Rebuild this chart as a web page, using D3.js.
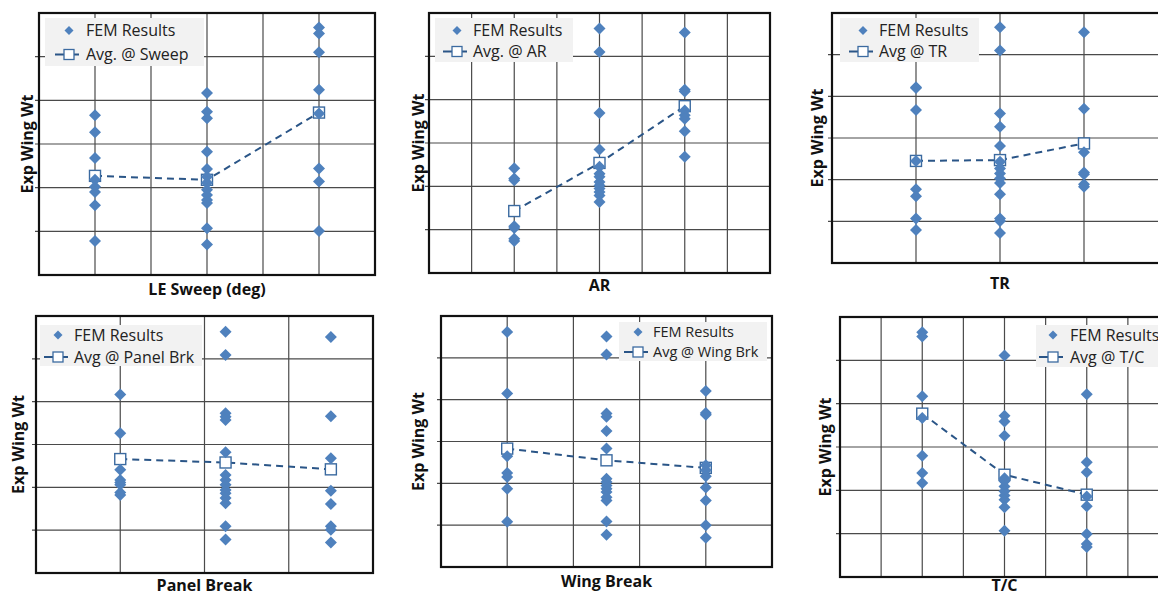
<!DOCTYPE html>
<html>
<head>
<meta charset="utf-8">
<script src="https://cdn.jsdelivr.net/npm/d3@7"></script>
<style>
  body { margin: 0; background: #fff; }
  svg { display: block; font-family: "Open Sans", sans-serif; }
</style>
</head>
<body>
<div id="app"></div>
<script>
// values are in grid units (y axis has no labels, 6 divisions)
const sweepX = [1, 3, 5];
const sweepFem = [
  [3.66, 3.27, 2.68, 2.18, 2.02, 1.90, 1.60, 0.78],
  [4.17, 3.74, 3.59, 2.82, 2.43, 2.25, 2.11, 1.95, 1.83, 1.72, 1.65, 1.07, 0.70],
  [5.67, 5.53, 5.10, 4.24, 3.70, 2.44, 2.14, 1.01]
];
const sweepAvg = [2.27, 2.18, 3.72];

const arX = [2, 4, 6];
const arFem = [
  [2.42, 2.18, 2.14, 1.08, 1.04, 0.79, 0.74],
  [5.64, 5.10, 3.69, 2.85, 2.45, 2.29, 2.22, 2.10, 2.02, 1.95, 1.87, 1.79, 1.64],
  [5.55, 4.23, 4.19, 3.75, 3.64, 3.56, 3.27, 2.68]
];
const arAvg = [1.43, 2.54, 3.85];

const trX = [1, 2, 3];
const trFem = [
  [4.22, 4.20, 3.67, 2.45, 1.77, 1.60, 1.07, 0.79],
  [5.66, 5.10, 3.59, 3.27, 2.81, 2.43, 2.27, 2.15, 2.03, 1.92, 1.65, 1.07, 1.01, 0.72],
  [5.54, 3.70, 2.66, 2.17, 2.13, 1.89, 1.83]
];
const trAvg = [2.45, 2.47, 2.87];

const panelBrkX = [1, 2.25, 3.5];
const panelBrkFem = [
  [4.17, 3.26, 2.41, 2.17, 2.11, 2.06, 1.88, 1.82],
  [5.63, 5.09, 3.73, 3.65, 3.57, 2.82, 2.29, 2.17, 2.06, 1.94, 1.86, 1.75, 1.63, 1.09, 0.78],
  [5.51, 3.66, 2.68, 1.92, 1.61, 1.09, 1.01, 0.71]
];
const panelBrkAvg = [2.66, 2.58, 2.42];

const wingBrkX = [1, 2.5, 4];
const wingBrkFem = [
  [5.62, 4.15, 2.65, 2.25, 2.15, 1.87, 1.08],
  [5.51, 5.08, 3.67, 3.59, 3.25, 2.83, 2.11, 2.03, 1.95, 1.87, 1.79, 1.67, 1.59, 1.09, 0.77],
  [4.21, 3.68, 3.64, 2.43, 2.31, 2.17, 1.90, 1.59, 1.00, 0.70]
];
const wingBrkAvg = [2.83, 2.55, 2.37];

const tcX = [2, 4, 6];
const tcFem = [
  [5.65, 5.55, 4.17, 3.67, 2.80, 2.40, 2.17],
  [5.11, 3.72, 3.59, 3.26, 2.28, 2.21, 2.09, 1.98, 1.88, 1.78, 1.61, 1.07],
  [4.22, 2.65, 2.42, 1.86, 1.63, 0.99, 0.76, 0.69]
];
const tcAvg = [3.77, 2.36, 1.90];

const xTitles = ["LE Sweep (deg)", "AR", "TR", "Panel Break", "Wing Break", "T/C"];
const avgNames = ["Avg. @ Sweep", "Avg. @ AR", "Avg @ TR", "Avg @ Panel Brk", "Avg @ Wing Brk", "Avg @ T/C"];
const femName = "FEM Results";
const yTitle = "Exp Wing Wt";

const series = [
  {x: sweepX, fem: sweepFem, avg: sweepAvg},
  {x: arX, fem: arFem, avg: arAvg},
  {x: trX, fem: trFem, avg: trAvg},
  {x: panelBrkX, fem: panelBrkFem, avg: panelBrkAvg},
  {x: wingBrkX, fem: wingBrkFem, avg: wingBrkAvg},
  {x: tcX, fem: tcFem, avg: tcAvg}
];

// plot frames on the page
const frames = [
  {l: 39, t: 13, r: 375, b: 275, xMax: 6, yLab: 27, xLabY: 289,
    leg: {x: 45, y: 18, w: 159, h: 48, mx: 24, tx: 41, r1: 12.5, r2: 36.5, fs: 16}},
  {l: 429, t: 13, r: 770, b: 273, xMax: 8, yLab: 418, xLabY: 285,
    leg: {x: 435, y: 18, w: 138, h: 44, mx: 22, tx: 38, r1: 12.5, r2: 33.5, fs: 16}},
  {l: 832, t: 13, r: 1168, b: 263, xMax: 4, yLab: 817, xLabY: 283,
    leg: {x: 840, y: 18, w: 139, h: 44, mx: 23, tx: 39, r1: 12.5, r2: 33.5, fs: 16}},
  {l: 36, t: 316, r: 373, b: 573, xMax: 4, yLab: 18, xLabY: 585,
    leg: {x: 40, y: 325, w: 162, h: 41, mx: 18, tx: 34, r1: 10, r2: 32, fs: 16}},
  {l: 441, t: 316, r: 772, b: 567, xMax: 5, yLab: 418, xLabY: 581,
    leg: {x: 619, y: 322, w: 148, h: 39, mx: 19, tx: 34, r1: 10, r2: 30, fs: 14.5}},
  {l: 840, t: 317, r: 1169, b: 577, xMax: 8, yLab: 825, xLabY: 585,
    leg: {x: 1036, y: 325, w: 140, h: 42, mx: 17, tx: 34, r1: 10, r2: 32, fs: 16}}
];

const blue = "#4f81bd";
const dark = "#2a5587";
const ink = "#111";

const svg = d3.select("#app").append("svg")
    .attr("width", 1158)
    .attr("height", 596)
    .attr("viewBox", [0, 0, 1158, 596]);

function diamondPath(s) {
  return `M0,${-s}L${s},0L0,${s}L${-s},0Z`;
}

frames.forEach((f, i) => {
  const s = series[i];
  const x = d3.scaleLinear().domain([0, f.xMax]).range([f.l, f.r]);
  const y = d3.scaleLinear().domain([0, 6]).range([f.b, f.t]);
  const g = svg.append("g");

  // grid
  g.append("g").selectAll("line")
    .data(x.ticks(f.xMax).slice(1, -1))
    .join("line")
      .attr("x1", d => x(d)).attr("x2", d => x(d))
      .attr("y1", f.t).attr("y2", f.b)
      .attr("stroke", "#4a4a4a").attr("stroke-width", 1.2);
  g.append("g").selectAll("line")
    .data(y.ticks(6).slice(1, -1))
    .join("line")
      .attr("x1", f.l - 4).attr("x2", f.r)
      .attr("y1", d => y(d)).attr("y2", d => y(d))
      .attr("stroke", "#4a4a4a").attr("stroke-width", 1.2);

  // frame
  g.append("rect")
    .attr("x", f.l).attr("y", f.t)
    .attr("width", f.r - f.l).attr("height", f.b - f.t)
    .attr("fill", "none").attr("stroke", ink).attr("stroke-width", 2.2);

  // average line
  const avgPts = s.x.map((xv, j) => [xv, s.avg[j]]);
  g.append("path")
    .attr("d", d3.line().x(d => x(d[0])).y(d => y(d[1]))(avgPts))
    .attr("fill", "none").attr("stroke", dark)
    .attr("stroke-width", 2).attr("stroke-dasharray", "7,5");
  g.append("g").selectAll("rect")
    .data(avgPts)
    .join("rect")
      .attr("x", d => x(d[0]) - 5.5).attr("y", d => y(d[1]) - 5.5)
      .attr("width", 11).attr("height", 11)
      .attr("fill", "#fff").attr("stroke", "#3b6aa0").attr("stroke-width", 1.4);

  // FEM points
  const pts = s.x.flatMap((xv, j) => s.fem[j].map(v => [xv, v]));
  g.append("g").selectAll("path")
    .data(pts)
    .join("path")
      .attr("transform", d => `translate(${x(d[0])},${y(d[1])})`)
      .attr("d", diamondPath(6))
      .attr("fill", blue);

  // axis titles
  g.append("text")
    .attr("transform", `translate(${f.yLab},${(f.t + f.b) / 2}) rotate(-90)`)
    .attr("text-anchor", "middle").attr("dy", "0.35em")
    .attr("font-weight", "bold").attr("font-size", 16).attr("fill", ink)
    .text(yTitle);
  g.append("text")
    .attr("x", (f.l + f.r) / 2).attr("y", f.xLabY)
    .attr("text-anchor", "middle").attr("dy", "0.35em")
    .attr("font-weight", "bold").attr("font-size", 16).attr("fill", ink)
    .text(xTitles[i]);

  // legend
  const L = f.leg;
  const lg = g.append("g").attr("transform", `translate(${L.x},${L.y})`);
  lg.append("rect").attr("width", L.w).attr("height", L.h).attr("fill", "#f2f2f2");
  lg.append("path")
    .attr("transform", `translate(${L.mx},${L.r1})`)
    .attr("d", diamondPath(4.5)).attr("fill", blue);
  lg.selectAll("line")
    .data([[L.mx - 14, L.mx - 5], [L.mx + 5, L.mx + 10]])
    .join("line")
      .attr("x1", d => d[0]).attr("x2", d => d[1])
      .attr("y1", L.r2).attr("y2", L.r2)
      .attr("stroke", dark).attr("stroke-width", 2);
  lg.append("rect")
    .attr("x", L.mx - 5).attr("y", L.r2 - 5).attr("width", 10).attr("height", 10)
    .attr("fill", "#fff").attr("stroke", "#3b6aa0").attr("stroke-width", 1.3);
  lg.selectAll("text")
    .data([[femName, L.r1], [avgNames[i], L.r2]])
    .join("text")
      .attr("x", L.tx).attr("y", d => d[1]).attr("dy", "0.35em")
      .attr("font-size", L.fs).attr("fill", "#222")
      .text(d => d[0]);
});
</script>
</body>
</html>
